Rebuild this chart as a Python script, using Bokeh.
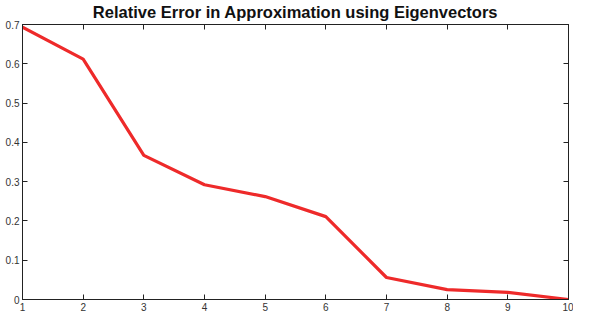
from bokeh.plotting import figure
from bokeh.models import LinearAxis, Range1d, FixedTicker, CustomLabelingPolicy
from bokeh.embed import file_html
from bokeh.resources import INLINE

# data
num_eigenvectors = [1, 2, 3, 4, 5, 6, 7, 8, 9, 10]
relative_error = [0.693, 0.612, 0.367, 0.292, 0.262, 0.211, 0.056, 0.025, 0.018, 0.0]
x_ticks = [1, 2, 3, 4, 5, 6, 7, 8, 9, 10]
y_ticks = [0, 0.1, 0.2, 0.3, 0.4, 0.5, 0.6, 0.7]
y_tick_labels = ["0", "0.1", "0.2", "0.3", "0.4", "0.5", "0.6", "0.7"]
title_text = "Relative Error in Approximation using Eigenvectors"

p = figure(width=573, height=313, output_backend="svg", toolbar_location=None,
           x_range=Range1d(1, 10), y_range=Range1d(0, 0.7),
           min_border_left=22, min_border_right=5, min_border_top=0, min_border_bottom=0)

p.title.text = title_text
p.title.text_font = "Liberation Sans"
p.title.text_font_size = "16.5px"
p.title.text_font_style = "bold"
p.title.align = "center"
p.title.text_color = "#111111"
p.title.standoff = 0

p.grid.visible = False
p.outline_line_color = "#222222"
p.background_fill_color = "white"
p.border_fill_color = "white"

p.line(num_eigenvectors, relative_error, line_color="#ee2a2a", line_width=3.2)

def style_axis(ax, ticks, show_labels):
    ax.ticker = FixedTicker(ticks=ticks)
    ax.major_tick_in = 5
    ax.major_tick_out = 0
    ax.minor_tick_line_color = None
    ax.axis_line_color = "#222222"
    ax.major_tick_line_color = "#222222"
    ax.major_label_text_font = "Liberation Sans"
    ax.major_label_text_font_size = "10px"
    ax.major_label_text_color = "#333333"
    ax.major_label_standoff = 3
    if not show_labels:
        ax.major_label_standoff = 0
        ax.major_label_text_font_size = "1px"
        ax.major_label_policy = CustomLabelingPolicy(
            code="for (const i of [...indices]) { indices.unset(i) }; return indices")

style_axis(p.xaxis[0], x_ticks, True)
style_axis(p.yaxis[0], y_ticks, True)
p.yaxis[0].major_label_overrides = {t: l for t, l in zip(y_ticks, y_tick_labels)}

top = LinearAxis()
style_axis(top, x_ticks, False)
p.add_layout(top, "above")
right = LinearAxis()
style_axis(right, y_ticks, False)
p.add_layout(right, "right")

open("out.html", "w").write(file_html(p, INLINE))
